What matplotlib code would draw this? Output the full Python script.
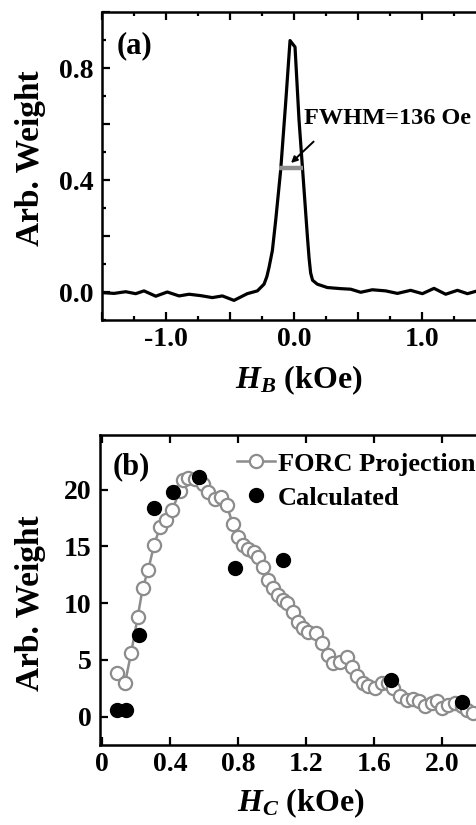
import matplotlib
matplotlib.use("Agg")
import matplotlib.pyplot as plt
from matplotlib.ticker import MultipleLocator, FuncFormatter

plt.rcParams['font.family'] = ['Liberation Serif', 'DejaVu Serif']
plt.rcParams['font.weight'] = 'bold'
plt.rcParams['mathtext.fontset'] = 'custom'
plt.rcParams['mathtext.it'] = 'Liberation Serif:italic:bold'
plt.rcParams['mathtext.rm'] = 'Liberation Serif:bold'
plt.rcParams['mathtext.bf'] = 'Liberation Serif:bold'

# ---- Panel (a) data: FORC distribution along H_B ----
hb = [-1.51, -1.406, -1.315, -1.237, -1.172, -1.08, -0.99, -0.898, -0.82, -0.729,
      -0.638, -0.56, -0.469, -0.365, -0.286, -0.234, -0.212, -0.195, -0.169, -0.143,
      -0.104, -0.065, -0.031, 0.008, 0.039, 0.073, 0.105, 0.118, 0.13, 0.145,
      0.182, 0.26, 0.365, 0.443, 0.521, 0.612, 0.716, 0.808, 0.911, 1.003,
      1.094, 1.185, 1.277, 1.355, 1.432, 1.51]
wb = [-0.002, -0.005, 0.001, -0.006, 0.004, -0.015, 0.000, -0.014, -0.008, -0.013,
      -0.020, -0.014, -0.030, -0.006, 0.004, 0.028, 0.055, 0.088, 0.148, 0.256,
      0.436, 0.676, 0.898, 0.875, 0.616, 0.400, 0.196, 0.120, 0.068, 0.042,
      0.028, 0.016, 0.012, 0.010, -0.001, 0.008, 0.004, -0.005, 0.006, -0.006,
      0.013, -0.008, 0.006, -0.006, 0.004, -0.002]
fwhm_x = [-0.117, 0.073]
fwhm_y = [0.442, 0.442]
fwhm_label = "FWHM=136 Oe"

# ---- Panel (b) data: FORC projection along H_C ----
hc_forc = [0.09, 0.135, 0.171, 0.21, 0.239, 0.272, 0.306, 0.341, 0.376, 0.412,
           0.459, 0.475, 0.508, 0.547, 0.596, 0.625, 0.665, 0.698, 0.733, 0.769,
           0.798, 0.827, 0.861, 0.894, 0.916, 0.949, 0.978, 1.008, 1.037, 1.063,
           1.09, 1.122, 1.155, 1.184, 1.214, 1.259, 1.292, 1.331, 1.361, 1.40,
           1.439, 1.469, 1.498, 1.537, 1.567, 1.606, 1.645, 1.684, 1.714, 1.753,
           1.792, 1.831, 1.867, 1.90, 1.939, 1.969, 1.998, 2.037, 2.076, 2.116,
           2.145, 2.184]
w_forc = [3.83, 2.95, 5.59, 8.8, 11.3, 12.95, 15.1, 16.7, 17.3, 18.2,
          19.9, 20.8, 21.0, 20.9, 20.5, 19.8, 19.2, 19.3, 18.6, 17.0,
          15.8, 15.1, 14.8, 14.5, 14.1, 13.2, 12.0, 11.3, 10.7, 10.3,
          9.97, 9.24, 8.36, 7.78, 7.49, 7.34, 6.46, 5.44, 4.71, 4.85,
          5.29, 4.41, 3.54, 2.95, 2.66, 2.52, 2.95, 2.95, 2.52, 1.78,
          1.49, 1.55, 1.34, 0.96, 1.2, 1.34, 0.76, 1.05, 1.2, 0.9,
          0.61, 0.32]
hc_calc = [0.09, 0.14, 0.22, 0.306, 0.42, 0.571, 0.782, 1.063, 1.698, 2.116]
w_calc = [0.61, 0.61, 7.19, 18.4, 19.8, 21.1, 13.1, 13.8, 3.25, 1.26]

W, H = 477, 825
fig = plt.figure(figsize=(W / 100, H / 100), dpi=100)

def px_axes(left, top, right, bottom):
    return fig.add_axes([left / W, 1 - bottom / H, (right - left) / W, (bottom - top) / H])

gray = '#8c8c8c'
tick_fs = 20

# ---------- Panel (a) ----------
ax1 = px_axes(102, 12, 486, 320)
ax1.plot(hb, wb, color='black', lw=2.3, solid_joinstyle='round')
ax1.plot(fwhm_x, fwhm_y, color='#8f8f8f', lw=3.2, solid_capstyle='butt')
ax1.annotate('', xy=(-0.039, 0.454), xytext=(0.169, 0.544),
             arrowprops=dict(arrowstyle='-|>', color='black', lw=1.4, mutation_scale=9))
ax1.text(0.078, 0.62, fwhm_label, fontsize=17.5, fontweight='bold', va='center', ha='left')
ax1.set_xlim(-1.5, 1.5)
ax1.set_ylim(-0.1, 1.0)
ax1.xaxis.set_major_locator(MultipleLocator(0.5))
ax1.xaxis.set_minor_locator(MultipleLocator(0.25))
ax1.yaxis.set_major_locator(MultipleLocator(0.2))
ax1.yaxis.set_minor_locator(MultipleLocator(0.1))
ax1.xaxis.set_major_formatter(FuncFormatter(
    lambda v, p: ('%.1f' % v).replace('-0.0', '0.0') if abs(v - round(v)) < 1e-6 else ''))
ax1.yaxis.set_major_formatter(FuncFormatter(
    lambda v, p: '%.1f' % abs(v) if abs(v / 0.4 - round(v / 0.4)) < 1e-6 and v > -0.05 else ''))
ax1.text(0.039, 0.89, '(a)', transform=ax1.transAxes, fontsize=22, fontweight='bold',
         va='center', ha='left')
ax1.text(0.512, -0.14, r'$H_B$ (kOe)', transform=ax1.transAxes, fontsize=23,
         fontweight='bold', va='top', ha='center')
ax1.set_ylabel('Arb. Weight', fontsize=24, fontweight='bold')
ax1.yaxis.set_label_coords(-0.145, 0.526)

# ---------- Panel (b) ----------
ax2 = px_axes(100, 435, 484, 745)
ax2.plot(hc_forc, w_forc, color=gray, lw=1.8, marker='o', ms=9.5, mfc='white',
         mec=gray, mew=1.6, label='FORC Projection')
ax2.plot(hc_calc, w_calc, ls='none', marker='o', ms=10, mfc='black', mec='black',
         label='Calculated')
ax2.set_xlim(-0.012, 2.247)
ax2.set_ylim(-2.5, 24.8)
ax2.xaxis.set_major_locator(MultipleLocator(0.4))
ax2.yaxis.set_major_locator(MultipleLocator(5))
ax2.xaxis.set_major_formatter(FuncFormatter(lambda v, p: '0' if abs(v) < 1e-6 else '%.1f' % v))
ax2.yaxis.set_major_formatter(FuncFormatter(lambda v, p: '%d' % round(v)))
ax2.text(0.034, 0.897, '(b)', transform=ax2.transAxes, fontsize=22, fontweight='bold',
         va='center', ha='left')
ax2.text(0.523, -0.133, r'$H_C$ (kOe)', transform=ax2.transAxes, fontsize=23,
         fontweight='bold', va='top', ha='center')
ax2.set_ylabel('Arb. Weight', fontsize=24, fontweight='bold')
ax2.yaxis.set_label_coords(-0.14, 0.458)
leg = ax2.legend(loc='upper left', bbox_to_anchor=(0.357, 0.945), frameon=False,
                 handlelength=1.45, handletextpad=0.1, labelspacing=0.4,
                 borderpad=0, borderaxespad=0, prop={'weight': 'bold', 'size': 19})

for ax in (ax1, ax2):
    for s in ('left', 'bottom', 'top'):
        ax.spines[s].set_linewidth(1.8)
    ax.spines['right'].set_visible(False)
    ax.tick_params(which='both', direction='in', top=True, right=False, width=1.6)
    ax.tick_params(which='major', length=5.5, labelsize=tick_fs)
    ax.tick_params(which='minor', length=3)
    ax.tick_params(axis='x', pad=5)
    ax.tick_params(axis='y', pad=6)
    for lab in ax.get_xticklabels() + ax.get_yticklabels():
        lab.set_fontweight('bold')

fig.savefig('out.png', dpi=100)
